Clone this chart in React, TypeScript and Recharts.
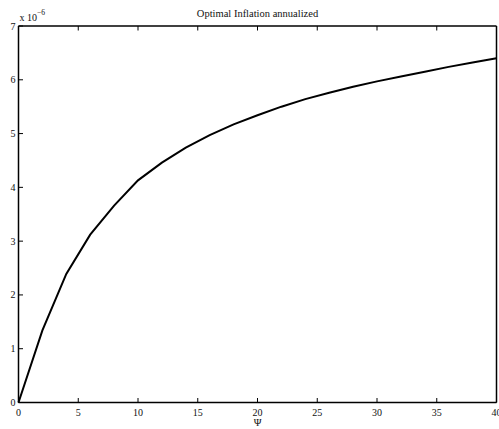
import { LineChart, Line, XAxis, YAxis, Label } from "recharts"

const psi = [0, 2, 4, 6, 8, 10, 12, 14, 16, 18, 20, 22, 24, 26, 28, 30, 32, 34, 36, 38, 40]
const inflation = [
  0, 1.34, 2.39, 3.12, 3.66, 4.13, 4.46, 4.74, 4.97, 5.17, 5.34, 5.5, 5.64, 5.76, 5.87, 5.97,
  6.06, 6.15, 6.24, 6.32, 6.4,
]
const xTicks = [0, 5, 10, 15, 20, 25, 30, 35, 40]
const yTicks = [0, 1, 2, 3, 4, 5, 6, 7]

const title = "Optimal Inflation annualized"
const xLabel = "Ψ"

const data = psi.map((p, i) => ({ psi: p, value: inflation[i] }))

const FONT = '"Liberation Serif", "Times New Roman", serif'
const TICK_LEN = 4.5

const BottomTick = (props: any) => {
  const { x, y, payload } = props
  return (
    <g>
      <line x1={x} x2={x} y1={y} y2={y - TICK_LEN} stroke="#000" />
      <text x={x} y={y + 13.5} textAnchor="middle" fontSize={10} fontFamily={FONT} fill="#111">
        {payload.value}
      </text>
    </g>
  )
}

const TopTick = (props: any) => {
  const { x, y } = props
  return <line x1={x} x2={x} y1={y} y2={y + TICK_LEN} stroke="#000" />
}

const LeftTick = (props: any) => {
  const { x, y, payload } = props
  return (
    <g>
      <line x1={x} x2={x + TICK_LEN} y1={y} y2={y} stroke="#000" />
      <text x={x - 3} y={y + 3.5} textAnchor="end" fontSize={10} fontFamily={FONT} fill="#111">
        {payload.value}
      </text>
    </g>
  )
}

const RightTick = (props: any) => {
  const { x, y } = props
  return <line x1={x} x2={x - TICK_LEN} y1={y} y2={y} stroke="#000" />
}

export default function App() {
  return (
    <div style={{ position: "absolute", left: 0, top: 0, background: "#fff" }}>
      <LineChart width={499} height={429} data={data} margin={{ top: 0, right: 0, bottom: 0, left: 0 }}>
        <XAxis
          dataKey="psi"
          type="number"
          domain={[0, 40]}
          ticks={xTicks}
          interval={0}
          height={26.5}
          tickSize={0}
          tickMargin={0}
          tickLine={false}
          axisLine={{ stroke: "#000", strokeWidth: 1.5 }}
          tick={BottomTick}
        >
          <Label
            content={(p: any) => {
              const vb = p.viewBox
              return (
                <text x={vb.x + vb.width / 2} y={426} textAnchor="middle" fontSize={10.5} fontFamily={FONT} fill="#111">
                  {xLabel}
                </text>
              )
            }}
          />
        </XAxis>
        <XAxis
          xAxisId="top"
          dataKey="psi"
          type="number"
          orientation="top"
          domain={[0, 40]}
          ticks={xTicks}
          interval={0}
          height={26}
          tickSize={0}
          tickMargin={0}
          tickLine={false}
          axisLine={{ stroke: "#000", strokeWidth: 1.5 }}
          tick={TopTick}
        >
          <Label
            content={(p: any) => {
              const vb = p.viewBox
              return (
                <g>
                  <text x={vb.x + vb.width / 2} y={16.5} textAnchor="middle" fontSize={10.5} fontFamily={FONT} fill="#111">
                    {title}
                  </text>
                  <text x={vb.x + 1} y={20.5} fontSize={10} fontFamily={FONT} fill="#111">
                    x 10
                    <tspan dy={-6} fontSize={7.5}>
                      −6
                    </tspan>
                  </text>
                </g>
              )
            }}
          />
        </XAxis>
        <YAxis
          type="number"
          domain={[0, 7]}
          ticks={yTicks}
          interval={0}
          width={18.5}
          tickSize={0}
          tickMargin={0}
          tickLine={false}
          axisLine={{ stroke: "#000", strokeWidth: 1.5 }}
          tick={LeftTick}
        />
        <YAxis
          yAxisId="right"
          orientation="right"
          type="number"
          domain={[0, 7]}
          ticks={yTicks}
          interval={0}
          width={2.5}
          tickSize={0}
          tickMargin={0}
          tickLine={false}
          axisLine={{ stroke: "#000", strokeWidth: 1.5 }}
          tick={RightTick}
        />
        <Line
          type="linear"
          dataKey="value"
          stroke="#000"
          strokeWidth={2}
          dot={false}
          isAnimationActive={false}
        />
      </LineChart>
    </div>
  )
}
